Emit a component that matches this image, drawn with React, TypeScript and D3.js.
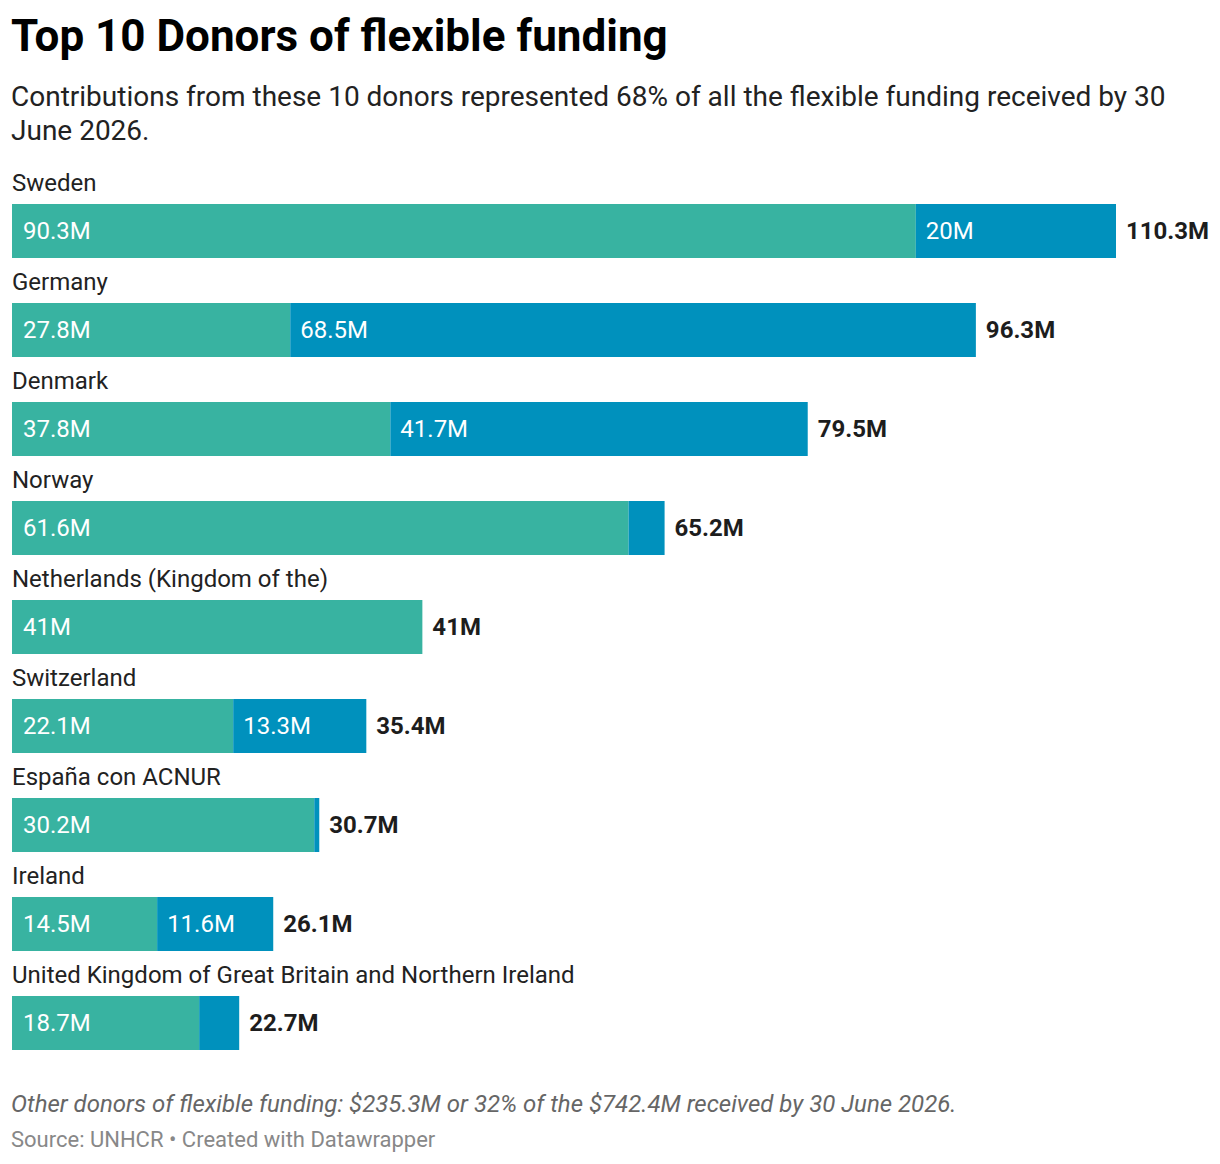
import { useEffect } from 'react'
import * as d3 from 'd3'

const donors = [
  'Sweden',
  'Germany',
  'Denmark',
  'Norway',
  'Netherlands (Kingdom of the)',
  'Switzerland',
  'España con ACNUR',
  'Ireland',
  'United Kingdom of Great Britain and Northern Ireland',
]
const unearmarked = [90.3, 27.8, 37.8, 61.6, 41, 22.1, 30.2, 14.5, 18.7]
const softlyEarmarked = [20, 68.5, 41.7, 3.6, 0, 13.3, 0.5, 11.6, 4.0]
const totals = [110.3, 96.3, 79.5, 65.2, 41, 35.4, 30.7, 26.1, 22.7]

const TEAL = '#38b3a1'
const BLUE = '#0091bd'
const FONT = 'Roboto, "Noto Sans", sans-serif'

const fmt = (v: number) => `${+v.toFixed(1)}M`

export default function App() {
  useEffect(() => {
    document.body.style.margin = '0'
  }, [])

  const W = 1220, H = 1164
  const x = d3.scaleLinear().domain([0, d3.max(totals)!]).range([12, 1116])
  const y = d3.scalePoint<string>().domain(donors).range([204, 996])
  const barH = 54

  return (
    <svg width={W} height={H} style={{ display: 'block', fontFamily: FONT }}>
      <rect width={W} height={H} fill="#fff" />
      <text x={11} y={51} fontSize={44} fontWeight={700} fill="#000">Top 10 Donors of flexible funding</text>
      <text x={11} y={106} fontSize={28} fill="#222">
        <tspan x={11}>Contributions from these 10 donors represented 68% of all the flexible funding received by 30</tspan>
        <tspan x={11} dy={34}>June 2026.</tspan>
      </text>

      {donors.map((d, i) => {
        const top = y(d)!
        const x0 = x(0), x1 = x(unearmarked[i]), x2 = x(unearmarked[i] + softlyEarmarked[i])
        const ty = top + barH / 2 + 7.5
        return (
          <g key={d}>
            <text x={12} y={top - 13.5} fontSize={24} fill="#222">{d}</text>
            <rect x={x0} y={top} width={x1 - x0} height={barH} fill={TEAL} />
            {softlyEarmarked[i] > 0 && (
              <rect x={x1} y={top} width={x2 - x1} height={barH} fill={BLUE} />
            )}
            {x1 - x0 > 60 && (
              <text x={x0 + 11} y={ty} fontSize={24} fill="#fff">{fmt(unearmarked[i])}</text>
            )}
            {x2 - x1 > 60 && (
              <text x={x1 + 10} y={ty} fontSize={24} fill="#fff">{fmt(softlyEarmarked[i])}</text>
            )}
            <text x={x(totals[i]) + 10} y={ty} fontSize={24} fontWeight={700} fill="#1d1d1d">{fmt(totals[i])}</text>
          </g>
        )
      })}

      <text x={11} y={1112} fontSize={24} fontStyle="italic" fill="#666">
        Other donors of flexible funding: $235.3M or 32% of the $742.4M received by 30 June 2026.
      </text>
      <text x={11} y={1147} fontSize={22} fill="#888">Source: UNHCR • Created with Datawrapper</text>
    </svg>
  )
}
